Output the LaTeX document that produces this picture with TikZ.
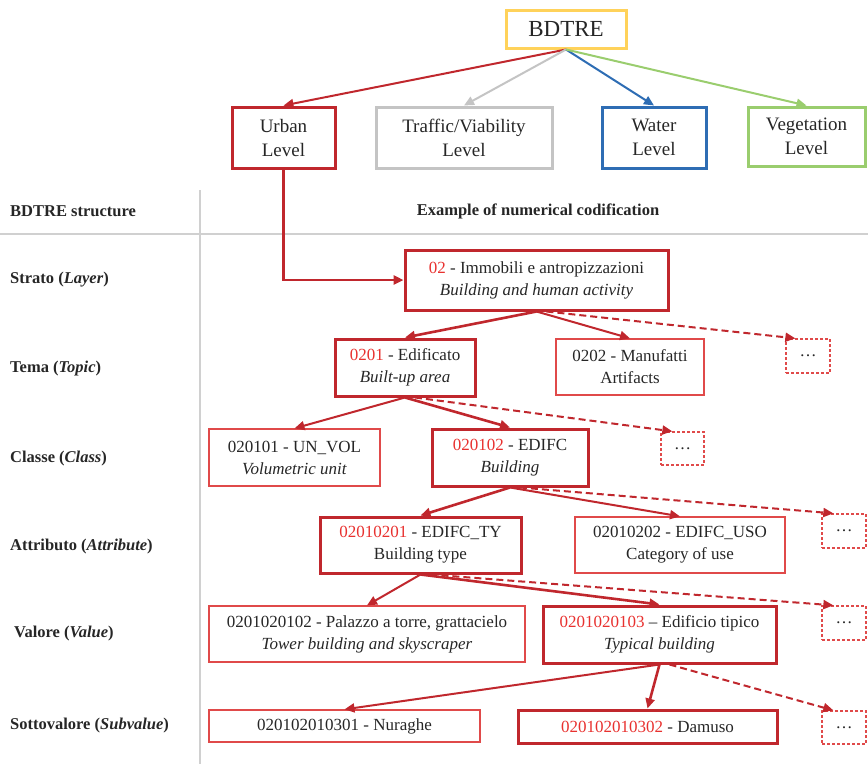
\documentclass[tikz,border=0pt]{standalone}
\usepackage{fontspec}
\setmainfont{Liberation Serif}
\usetikzlibrary{arrows.meta}
\definecolor{dred}{HTML}{C0272D}
\definecolor{lred}{HTML}{E04A4A}
\definecolor{cred}{HTML}{E8312F}
\definecolor{txt}{HTML}{262626}
\definecolor{ygold}{HTML}{FFD25A}
\definecolor{lgray}{HTML}{C4C4C4}
\definecolor{wblue}{HTML}{2E6DB4}
\definecolor{vgreen}{HTML}{9ACD6E}
\definecolor{divg}{HTML}{D0D0D0}
\begin{document}
\begin{tikzpicture}[x=1pt,y=-1pt,
 box/.style={draw, inner sep=0pt, align=center, text=txt, font=\fontsize{17}{22}\selectfont},
 thickbox/.style={box, draw=dred, line width=3pt},
 thinbox/.style={box, draw=lred, line width=1.3pt},
 dotbox/.style={box, draw=lred, line width=1.3pt, dash pattern=on 3pt off 2pt},
 lvl/.style={draw, inner sep=0pt, align=center, text=txt, line width=3pt, font=\fontsize{19}{24}\selectfont},
 arr/.style={draw=dred, line width=2pt, -{Triangle[length=10pt,width=9pt]}},
 arrb/.style={arr, line width=2.6pt},
 darr/.style={arr, dash pattern=on 7pt off 4pt},
 rowlbl/.style={anchor=west, inner sep=0pt, text=txt, font=\fontsize{16.5}{20}\selectfont\bfseries},
]
\useasboundingbox (0,0) rectangle (868,764);
% top level
\node[lvl, draw=ygold, minimum width=120pt, minimum height=38pt, font=\fontsize{23}{26}\selectfont] (bdtre) at (566,29) {BDTRE};
\node[lvl, draw=dred, minimum width=103pt, minimum height=61pt] (urban) at (283.5,137.5) {Urban\\Level};
\node[lvl, draw=lgray, minimum width=176pt, minimum height=61pt] (traffic) at (464,137.5) {Traffic/Viability\\Level};
\node[lvl, draw=wblue, minimum width=104pt, minimum height=61pt] (water) at (654,137.5) {Water\\Level};
\node[lvl, draw=vgreen, minimum width=117pt, minimum height=59pt] (veg) at (806.5,136.5) {Vegetation\\Level};
\draw[arr, draw=dred] (bdtre.south) -- (urban.north);
\draw[arr, draw=lgray] (bdtre.south) -- (traffic.north);
\draw[arr, draw=wblue] (bdtre.south) -- (water.north);
\draw[arr, draw=vgreen] (bdtre.south) -- (veg.north);
% table
\draw[divg, line width=1.5pt] (200,190) -- (200,764);
\draw[divg, line width=1.5pt] (0,234) -- (868,234);
\node[rowlbl] (h1) at (10,211) {BDTRE structure};
\node[inner sep=0pt, text=txt, font=\fontsize{16.5}{20}\selectfont\bfseries] (h2) at (538,211) {Example of numerical codification};
\node[rowlbl] (r1) at (10,280) {Strato (\textit{Layer})};
\node[rowlbl] (r2) at (10,369) {Tema (\textit{Topic})};
\node[rowlbl] (r3) at (10,459) {Classe (\textit{Class})};
\node[rowlbl] (r4) at (10,547) {Attributo (\textit{Attribute})};
\node[rowlbl] (r5) at (14,634) {Valore (\textit{Value})};
\node[rowlbl] (r6) at (10,726) {Sottovalore (\textit{Subvalue})};
% layer
\node[thickbox, minimum width=263pt, minimum height=60pt] (b02) at (536.5,280) {{\color{cred}02} - Immobili e antropizzazioni\\\textit{Building and human activity}};
% topic
\node[thickbox, minimum width=140pt, minimum height=57pt] (b0201) at (405,367.5) {{\color{cred}0201} - Edificato\\\textit{Built-up area}};
\node[thinbox, minimum width=148pt, minimum height=56pt] (b0202) at (630,367) {0202 - Manufatti\\Artifacts};
\node[dotbox, minimum width=44pt, minimum height=34pt] (d1) at (808,356) {\ldots};
% class
\node[thinbox, minimum width=171pt, minimum height=57pt] (c1) at (294.5,457.5) {020101 - UN\_VOL\\\textit{Volumetric unit}};
\node[thickbox, minimum width=156pt, minimum height=57pt] (c2) at (510,457.5) {{\color{cred}020102} - EDIFC\\\textit{Building}};
\node[dotbox, minimum width=43pt, minimum height=33pt] (d2) at (682.5,448.5) {\ldots};
% attribute
\node[thickbox, minimum width=201pt, minimum height=56pt] (a1) at (420.5,545) {{\color{cred}02010201} - EDIFC\_TY\\Building type};
\node[thinbox, minimum width=210pt, minimum height=56pt] (a2) at (680,545) {02010202 - EDIFC\_USO\\Category of use};
\node[dotbox, minimum width=44pt, minimum height=34pt] (d3) at (844,531) {\ldots};
% value
\node[thinbox, minimum width=316pt, minimum height=56pt] (v1) at (367,634) {0201020102 - Palazzo a torre, grattacielo\\\textit{Tower building and skyscraper}};
\node[thickbox, minimum width=233pt, minimum height=57pt] (v2) at (659.5,634.5) {{\color{cred}0201020103} -- Edificio tipico\\\textit{Typical building}};
\node[dotbox, minimum width=44pt, minimum height=34pt] (d4) at (844,623) {\ldots};
% subvalue
\node[thinbox, minimum width=271pt, minimum height=32pt] (s1) at (344.5,726) {020102010301 - Nuraghe};
\node[thickbox, minimum width=259pt, minimum height=33pt] (s2) at (647.5,726.5) {{\color{cred}020102010302} - Damuso};
\node[dotbox, minimum width=44pt, minimum height=33pt] (d5) at (844,727.5) {\ldots};
% connectors
\draw[arrb] (urban.south) |- (b02.west);
\draw[arrb] (b02.south) -- (b0201.north);
\draw[arr] (b02.south) -- (b0202.north);
\draw[darr] ([xshift=10pt]b02.south) -- ([xshift=10pt]d1.north west);
\draw[arr] (b0201.south) -- (c1.north);
\draw[arrb] (b0201.south) -- (c2.north);
\draw[darr] ([xshift=10pt]b0201.south) -- ([xshift=12pt]d2.north west);
\draw[arrb] (c2.south) -- (a1.north);
\draw[arr] (c2.south) -- (a2.north);
\draw[darr] ([xshift=10pt]c2.south) -- ([xshift=12pt]d3.north west);
\draw[arr] (a1.south) -- (v1.north);
\draw[arrb] (a1.south) -- (v2.north);
\draw[darr] ([xshift=10pt]a1.south) -- ([xshift=12pt]d4.north west);
\draw[arr] (v2.south) -- (s1.north);
\draw[arrb] (v2.south) -- (s2.north);
\draw[darr] ([xshift=10pt]v2.south) -- ([xshift=12pt]d5.north west);
\end{tikzpicture}
\end{document}
